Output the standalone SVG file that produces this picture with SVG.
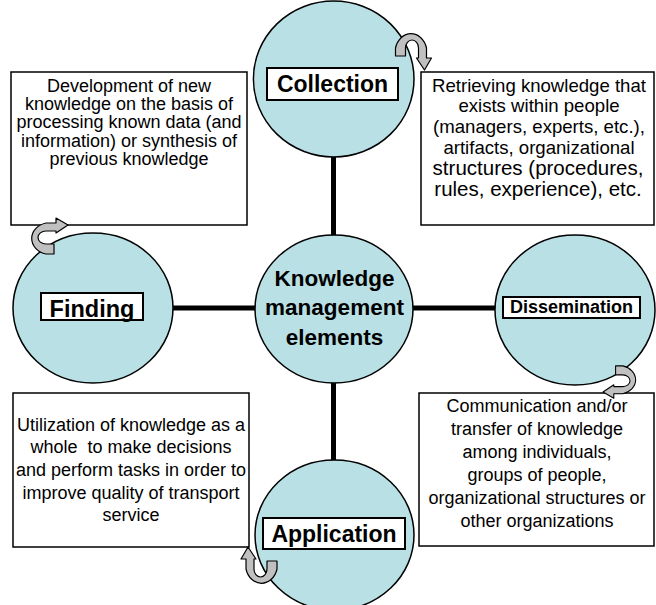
<svg xmlns="http://www.w3.org/2000/svg" width="656" height="605" viewBox="0 0 656 605">
<style>
.t{font-family:"Liberation Sans",Arial,sans-serif;font-size:18px;fill:#000;text-anchor:middle}
.b{font-family:"Liberation Sans",Arial,sans-serif;font-weight:bold;fill:#000;text-anchor:middle}
.box{fill:#fff;stroke:#000;stroke-width:1.5}
.lbl{fill:#fff;stroke:#000;stroke-width:2}
.c{fill:#b9e0e4;stroke:#000;stroke-width:1.5}
.ln{stroke:#000;stroke-width:5}
.arr{fill:#c0c0c0;stroke:#000;stroke-width:1.2;stroke-linejoin:round}
</style>
<defs>
<path id="uarrow" d="M -16 8 L -16 0 A 16 19 0 0 1 15 0 L 15 10 L 20 10 L 13 22 L 5 10 L 7 10 L 7 0 A 6.5 8 0 0 0 -6 0 L -6 8 Z"/>
</defs>
<rect width="656" height="605" fill="#fff"/>

<g id="desc-finding">
<rect class="box" x="11" y="72" width="236" height="153"/>
<text class="t" x="129" y="91.7">Development of new</text>
<text class="t" x="129" y="110">knowledge on the basis of</text>
<text class="t" x="129" y="128.3">processing known data (and</text>
<text class="t" x="129" y="146.6">information) or synthesis of</text>
<text class="t" x="129" y="165">previous knowledge</text>
</g>

<g id="desc-collection">
<rect class="box" x="421" y="72" width="233" height="153"/>
<text class="t" x="539" y="91.7" style="font-size:18.6px">Retrieving knowledge that</text>
<text class="t" x="539" y="112" style="font-size:18.6px">exists within people</text>
<text class="t" x="539" y="133.3" style="font-size:18.6px">(managers, experts, etc.),</text>
<text class="t" x="539" y="153.5" style="font-size:18.6px">artifacts, organizational</text>
<text class="t" x="538" y="175" style="font-size:20.5px">structures (procedures,</text>
<text class="t" x="538" y="196" style="font-size:20.5px">rules, experience), etc.</text>
</g>

<g id="desc-application">
<rect class="box" x="13" y="393" width="236" height="154"/>
<text class="t" x="131" y="430.7">Utilization of knowledge as a</text>
<text class="t" x="131" y="453.4" xml:space="preserve">whole  to make decisions</text>
<text class="t" x="131" y="476">and perform tasks in order to</text>
<text class="t" x="131" y="498.7">improve quality of transport</text>
<text class="t" x="131" y="521.4">service</text>
</g>

<g id="desc-dissemination">
<rect class="box" x="419" y="393" width="235" height="153"/>
<text class="t" x="537" y="412">Communication and/or</text>
<text class="t" x="537" y="435">transfer of knowledge</text>
<text class="t" x="537" y="458">among individuals,</text>
<text class="t" x="537" y="481">groups of people,</text>
<text class="t" x="537" y="504">organizational structures or</text>
<text class="t" x="537" y="527">other organizations</text>
</g>

<g id="connectors">
<line class="ln" x1="333.5" y1="150" x2="333.5" y2="240"/>
<line class="ln" x1="333.5" y1="378" x2="333.5" y2="465"/>
<line class="ln" x1="168" y1="308" x2="260" y2="308"/>
<line class="ln" x1="408" y1="308" x2="500" y2="308"/>
</g>

<g id="collection">
<ellipse class="c" cx="333.7" cy="79" rx="80.3" ry="78"/>
<rect class="lbl" x="267" y="68" width="131" height="32"/>
<text class="b" x="332.5" y="91.7" style="font-size:23px">Collection</text>
</g>

<g id="finding">
<ellipse class="c" cx="93" cy="308" rx="80" ry="75"/>
<rect class="lbl" x="41" y="293" width="102" height="27"/>
<text class="b" x="92" y="317" style="font-size:23.5px">Finding</text>
</g>

<g id="center">
<ellipse class="c" cx="334" cy="309" rx="79" ry="74"/>
<text class="b" x="334.5" y="286" style="font-size:22.5px">Knowledge</text>
<text class="b" x="334.5" y="314.5" style="font-size:22.5px">management</text>
<text class="b" x="334.5" y="345" style="font-size:22.5px">elements</text>
</g>

<g id="dissemination">
<ellipse class="c" cx="575" cy="310" rx="80" ry="75"/>
<rect class="lbl" x="503" y="297" width="137" height="21"/>
<text class="b" x="571.5" y="313" style="font-size:18px">Dissemination</text>
</g>

<g id="application">
<ellipse class="c" cx="334.5" cy="535" rx="79.5" ry="75"/>
<rect class="lbl" x="263" y="518" width="142" height="31"/>
<text class="b" x="334" y="542.3" style="font-size:23px">Application</text>
</g>

<g id="cycle-arrows">
<use href="#uarrow" class="arr" transform="translate(411.5,48)"/>
<use href="#uarrow" class="arr" transform="translate(46,238) rotate(-90)"/>
<use href="#uarrow" class="arr" transform="translate(622.8,380.3) rotate(90) scale(0.9)"/>
<use href="#uarrow" class="arr" transform="translate(261,569) rotate(180)"/>
</g>
</svg>
